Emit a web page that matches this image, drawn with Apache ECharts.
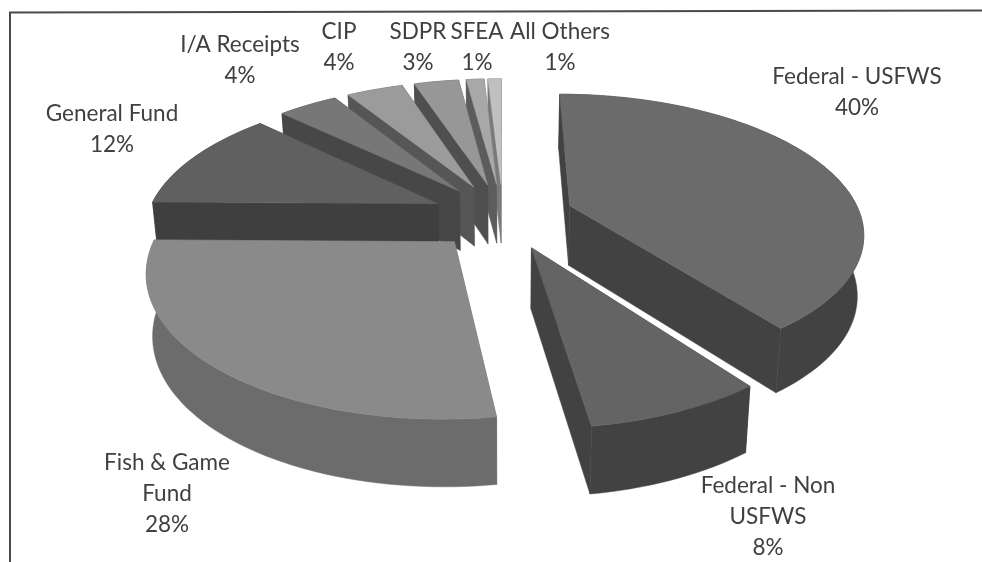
<!DOCTYPE html>
<html>
<head>
<meta charset="utf-8">
<style>
html, body { margin: 0; padding: 0; background: #fff; }
#chart { width: 982px; height: 562px; }
</style>
<script src="https://cdn.jsdelivr.net/npm/echarts@6/dist/echarts.min.js"></script>
</head>
<body>
<div id="chart"></div>
<script>
var categories = ['Federal - USFWS', 'Federal - Non\nUSFWS', 'Fish & Game\nFund', 'General Fund',
    'I/A Receipts', 'CIP', 'SDPR', 'SFEA', 'All Others'];
// shares, the labels show them rounded
var values = [39.8, 7.9, 27.5, 11.9, 4.0, 3.8, 3.0, 1.2, 0.9];

var topColors = ['#6b6b6b', '#646464', '#8a8a8a', '#606060', '#777777', '#9b9b9b', '#979797', '#a8a8a8', '#c0c0c0'];
var wallColors = ['#424242', '#424242', '#6c6c6c', '#3f3f3f', '#474747', '#565656', '#4f4f4f', '#5c5c5c', '#7a7a7a'];
var labelCenters = [[857, 92], [768, 517], [167, 494], [112, 129], [240, 60], [339, 47], [418, 47], [477, 47], [560, 47]];

// 3D pie projection
var cx = 503, cy = 216, rx = 291, ry = 135, depth = 60;
var perspective = 0.18, bottomShrink = 0.018, explode = 0.245;

var total = values.reduce(function (a, b) { return a + b; }, 0);
var starts = [];
var sum = 0;
values.forEach(function (v) {
    starts.push(sum / total * Math.PI * 2);
    sum += v;
});

function project(wx, wy, z) {
    var s = 1 / (1 - perspective * wy);
    return [cx + rx * wx * s * (1 - bottomShrink * z), cy + ry * wy * s + depth * z * Math.sqrt(s)];
}

function slicePoints(i) {
    var a0 = starts[i];
    var a1 = a0 + values[i] / total * Math.PI * 2;
    var mid = (a0 + a1) / 2;
    var ox = Math.sin(mid) * explode;
    var oy = -Math.cos(mid) * explode;
    var rim = [];
    var n = Math.max(2, Math.ceil((a1 - a0) / 0.03));
    for (var k = 0; k <= n; k++) {
        var a = a0 + (a1 - a0) * k / n;
        rim.push([ox + Math.sin(a), oy - Math.cos(a)]);
    }
    return { apex: [ox, oy], rim: rim, mid: oy };
}

function renderSlice(params, api) {
    var i = params.dataIndex;
    var p = slicePoints(i);
    var rank = p.mid * 100 + 200;
    var wall = wallColors[i];
    var children = [];

    function poly(points, color, z2) {
        children.push({
            type: 'polygon',
            z2: z2,
            shape: { points: points },
            style: { fill: color, stroke: color, lineWidth: 0.5 }
        });
    }
    function pr(w, z) { return project(w[0], w[1], z); }

    // radial walls, the further one first
    var first = p.rim[0], last = p.rim[p.rim.length - 1];
    var walls = first[1] < last[1] ? [first, last] : [last, first];
    walls.forEach(function (w, idx) {
        poly([pr(p.apex, 0), pr(w, 0), pr(w, 1), pr(p.apex, 1)], wall, rank * 10 + idx);
    });
    // rim wall
    var rimWall = p.rim.map(function (w) { return pr(w, 0); })
        .concat(p.rim.slice().reverse().map(function (w) { return pr(w, 1); }));
    poly(rimWall, wall, rank * 10 + 2);
    // top face
    poly([pr(p.apex, 0)].concat(p.rim.map(function (w) { return pr(w, 0); })), topColors[i], rank * 10 + 3);

    children.push({
        type: 'text',
        z2: 100000,
        style: {
            x: labelCenters[i][0],
            y: labelCenters[i][1],
            text: categories[i] + '\n' + Math.round(api.value(0)) + '%',
            fill: '#404040',
            font: '22.5px Lato',
            lineHeight: 31,
            align: 'center',
            verticalAlign: 'middle'
        }
    });
    return { type: 'group', children: children };
}

var myChart = echarts.init(document.getElementById('chart'));
var option = {
    animation: false,
    backgroundColor: '#ffffff',
    graphic: [
        {
            type: 'polyline',
            silent: true,
            shape: { points: [[10, 562], [10, 12.5], [982, 10.5]] },
            style: { stroke: '#4a4a4a', lineWidth: 2, fill: null }
        }
    ],
    series: [
        {
            type: 'custom',
            coordinateSystem: 'none',
            renderItem: renderSlice,
            silent: true,
            data: values.map(function (v) { return [v]; })
        }
    ]
};
myChart.setOption(option);
</script>
</body>
</html>
